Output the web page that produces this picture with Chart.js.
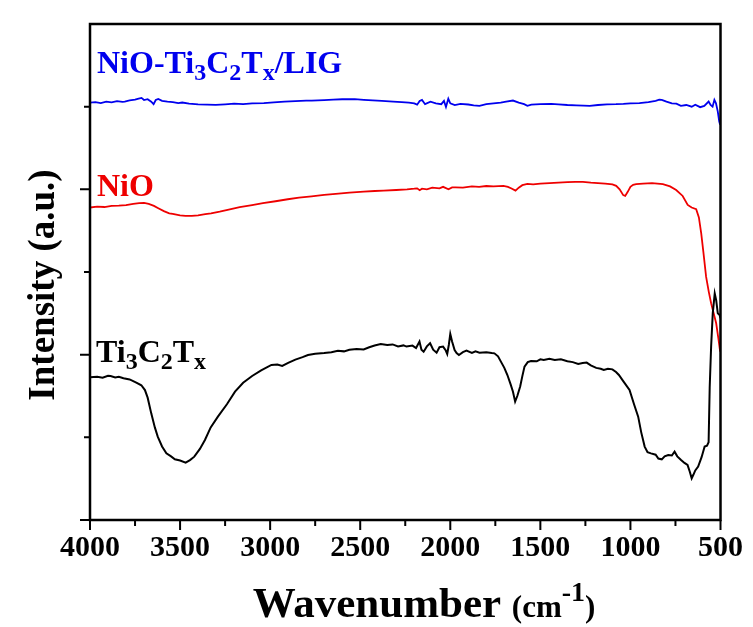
<!DOCTYPE html>
<html>
<head>
<meta charset="utf-8">
<script src="https://cdn.jsdelivr.net/npm/chart.js@4.4.0/dist/chart.umd.min.js"></script>
<style>
body{margin:0;background:#fff;}
#wrap{width:753px;height:627px;}
</style>
</head>
<body>
<div id="wrap"><canvas id="ftir" width="753" height="627"></canvas></div>
<script>
// x ticks (wavenumber, cm-1)
const xTicks = [4000, 3500, 3000, 2500, 2000, 1500, 1000, 500];

// Ti3C2Tx (black)
const wnTi = [4000,3960,3930,3900,3886,3860,3840,3814,3780,3743,3715,3695,3680,3660,3640,3624,3600,3576,3550,3529,3500,3469,3445,3421,3390,3362,3330,3290,3240,3195,3150,3100,3050,2993,2960,2933,2900,2860,2820,2790,2750,2700,2660,2624,2590,2560,2520,2481,2450,2420,2386,2350,2320,2290,2260,2243,2210,2190,2171,2160,2148,2130,2112,2095,2076,2060,2040,2025,2017,2008,2000,1990,1976,1965,1952,1930,1910,1880,1860,1838,1800,1770,1755,1735,1719,1700,1683,1665,1652,1640,1628,1612,1600,1588,1570,1552,1520,1500,1481,1450,1420,1386,1350,1320,1290,1265,1243,1220,1190,1165,1148,1125,1100,1080,1064,1040,1005,980,957,940,921,905,886,860,845,826,810,790,770,755,740,719,700,683,670,660,650,640,624,605,588,575,566,560,552,543,532,524,515,505,500];
const intTi = [0.863,0.866,0.860,0.872,0.871,0.862,0.866,0.857,0.850,0.831,0.815,0.786,0.740,0.645,0.560,0.504,0.445,0.403,0.385,0.367,0.360,0.347,0.362,0.383,0.430,0.484,0.560,0.625,0.700,0.776,0.830,0.871,0.905,0.938,0.940,0.932,0.950,0.970,0.985,0.998,1.005,1.010,1.015,1.024,1.020,1.030,1.034,1.032,1.045,1.055,1.065,1.058,1.062,1.050,1.056,1.049,1.055,1.040,1.079,1.030,1.018,1.050,1.069,1.030,1.012,1.045,1.049,1.025,1.004,1.060,1.125,1.080,1.028,1.010,0.998,1.015,1.024,1.010,1.020,1.012,1.015,1.010,1.008,0.990,0.958,0.920,0.877,0.820,0.776,0.716,0.750,0.807,0.870,0.928,0.955,0.962,0.960,0.972,0.968,0.975,0.968,0.972,0.960,0.955,0.944,0.950,0.952,0.935,0.920,0.915,0.907,0.915,0.911,0.895,0.877,0.840,0.786,0.700,0.625,0.530,0.444,0.410,0.403,0.395,0.372,0.367,0.385,0.393,0.390,0.413,0.385,0.363,0.345,0.333,0.290,0.252,0.275,0.300,0.323,0.380,0.444,0.450,0.470,0.800,1.050,1.250,1.370,1.330,1.250,1.240,1.220];

// NiO (red)
const wnNiO = [4000,3960,3920,3880,3840,3800,3760,3727,3700,3674,3645,3621,3590,3560,3541,3500,3470,3435,3400,3360,3328,3280,3230,3169,3100,3040,2970,2902,2840,2770,2700,2636,2560,2480,2420,2370,2300,2240,2200,2184,2170,2157,2130,2100,2060,2040,2010,1990,1971,1930,1880,1840,1800,1760,1705,1680,1660,1638,1620,1600,1572,1540,1500,1449,1400,1350,1306,1264,1220,1180,1140,1100,1079,1060,1040,1029,1015,1000,985,968,930,880,820,780,746,710,682,660,635,620,607,595,580,565,552,538,524,512,502];
const intNiO = [1.890,1.895,1.893,1.900,1.902,1.905,1.912,1.916,1.918,1.912,1.900,1.886,1.868,1.855,1.851,1.843,1.840,1.839,1.843,1.850,1.855,1.865,1.878,1.892,1.905,1.917,1.928,1.940,1.950,1.958,1.966,1.972,1.980,1.986,1.990,1.992,1.996,2.000,2.004,2.006,1.995,2.004,2.000,2.010,2.006,2.015,2.000,2.012,2.012,2.010,2.018,2.015,2.020,2.018,2.021,2.015,2.005,1.992,2.010,2.025,2.033,2.030,2.035,2.037,2.040,2.043,2.045,2.045,2.040,2.038,2.035,2.030,2.021,2.000,1.965,1.960,1.985,2.015,2.027,2.031,2.035,2.037,2.031,2.018,1.996,1.960,1.906,1.890,1.880,1.830,1.734,1.620,1.472,1.380,1.311,1.250,1.190,1.100,1.018];

// NiO-Ti3C2Tx/LIG (blue)
const wnLIG = [4000,3970,3940,3910,3880,3850,3820,3807,3780,3750,3730,3714,3700,3680,3660,3647,3635,3621,3600,3570,3540,3510,3488,3450,3400,3350,3302,3250,3200,3150,3100,3035,2980,2920,2860,2800,2769,2700,2650,2600,2530,2480,2430,2380,2317,2270,2230,2200,2184,2170,2157,2140,2110,2080,2050,2035,2024,2011,2000,1975,1944,1900,1870,1838,1800,1760,1720,1690,1652,1620,1590,1572,1550,1500,1439,1400,1350,1300,1260,1226,1180,1130,1080,1039,1000,950,900,860,840,826,800,770,745,720,690,660,640,613,590,566,555,544,534,525,515,507,502];
const intLIG = [2.525,2.528,2.522,2.530,2.526,2.533,2.529,2.531,2.538,2.542,2.548,2.553,2.540,2.545,2.530,2.515,2.540,2.547,2.535,2.530,2.528,2.522,2.525,2.518,2.514,2.512,2.511,2.514,2.518,2.515,2.520,2.521,2.526,2.530,2.534,2.537,2.537,2.540,2.543,2.545,2.545,2.541,2.538,2.535,2.531,2.528,2.524,2.520,2.512,2.535,2.541,2.515,2.530,2.520,2.515,2.535,2.498,2.548,2.520,2.510,2.517,2.513,2.508,2.505,2.515,2.520,2.525,2.530,2.537,2.525,2.515,2.505,2.512,2.515,2.517,2.514,2.510,2.508,2.506,2.505,2.510,2.514,2.515,2.517,2.520,2.522,2.528,2.535,2.542,2.541,2.530,2.520,2.518,2.505,2.510,2.500,2.512,2.497,2.505,2.531,2.510,2.500,2.541,2.520,2.470,2.410,2.390];

const serif = "'Liberation Serif', 'Times New Roman', serif";

function pts(xs, ys) {
  return xs.map(function(v, i){ return {x: v, y: ys[i]}; });
}

// draws text with sub/superscripts, parts = [text, size, dy]
function drawRich(ctx, parts, x, y, color) {
  ctx.fillStyle = color;
  ctx.textBaseline = 'alphabetic';
  ctx.textAlign = 'left';
  parts.forEach(function(p){
    ctx.font = 'bold ' + p[1] + 'px ' + serif;
    ctx.fillText(p[0], x, y + p[2]);
    x += ctx.measureText(p[0]).width;
  });
}
function richWidth(ctx, parts) {
  let w = 0;
  parts.forEach(function(p){
    ctx.font = 'bold ' + p[1] + 'px ' + serif;
    w += ctx.measureText(p[0]).width;
  });
  return w;
}

const frame = {
  id: 'frame',
  afterDraw(chart) {
    const ctx = chart.ctx;
    const a = chart.chartArea;
    const xs = chart.scales.x, ys = chart.scales.y;
    ctx.save();
    ctx.strokeStyle = '#000';
    ctx.lineWidth = 2.5;
    ctx.strokeRect(a.left, a.top, a.right - a.left, a.bottom - a.top);
    ctx.lineWidth = 2;
    ctx.beginPath();
    // x ticks, major 500 minor 250
    for (let v = 500; v <= 4000; v += 250) {
      const px = xs.getPixelForValue(v);
      const len = (v % 500 === 0) ? 10 : 6;
      ctx.moveTo(px, a.bottom);
      ctx.lineTo(px, a.bottom + len);
    }
    // y ticks, major 1 minor 0.5
    for (let v = 0; v <= 2.5; v += 0.5) {
      const py = ys.getPixelForValue(v);
      const len = (v % 1 === 0) ? 10 : 6;
      ctx.moveTo(a.left, py);
      ctx.lineTo(a.left - len, py);
    }
    ctx.stroke();

    // series labels
    drawRich(ctx, [['NiO-Ti',32,0],['3',24,7],['C',32,0],['2',24,7],['T',32,0],['x',24,7],['/LIG',32,0]], 97, 73, '#0000ee');
    drawRich(ctx, [['NiO',32,0]], 97, 196, '#ee0000');
    drawRich(ctx, [['Ti',32,0],['3',24,7],['C',32,0],['2',24,7],['T',32,0],['x',24,7]], 96, 362, '#000');

    // x title
    const xt = [['Wavenumber ',43,0],['(cm',31,0],['-1',28,-16],[')',31,0]];
    const w = richWidth(ctx, xt);
    drawRich(ctx, xt, 424 - w / 2, 617, '#000');

    // y title
    ctx.translate(54, 285);
    ctx.rotate(-Math.PI / 2);
    ctx.font = 'bold 37px ' + serif;
    ctx.textAlign = 'center';
    ctx.textBaseline = 'alphabetic';
    ctx.fillText('Intensity (a.u.)', 0, 0);
    ctx.restore();
  }
};

new Chart(document.getElementById('ftir'), {
  type: 'line',
  data: {
    datasets: [
      {label: 'Ti3C2Tx', data: pts(wnTi, intTi), borderColor: '#000', borderWidth: 2},
      {label: 'NiO', data: pts(wnNiO, intNiO), borderColor: '#ee0000', borderWidth: 1.8},
      {label: 'NiO-Ti3C2Tx/LIG', data: pts(wnLIG, intLIG), borderColor: '#0000ee', borderWidth: 1.8}
    ]
  },
  options: {
    responsive: false,
    animation: false,
    layout: {padding: {left: 0, right: 32, top: 24, bottom: 0}},
    elements: {point: {radius: 0}, line: {tension: 0}},
    plugins: {legend: {display: false}, tooltip: {enabled: false}},
    scales: {
      x: {
        type: 'linear',
        reverse: true,
        min: 500,
        max: 4000,
        afterBuildTicks: function(s){ s.ticks = xTicks.map(function(v){ return {value: v}; }); },
        afterFit: function(s){ s.height = 107; },
        grid: {display: false, drawTicks: false},
        border: {display: false},
        ticks: {
          autoSkip: false,
          maxRotation: 0,
          padding: 10,
          color: '#000',
          font: {family: serif, size: 30, weight: 'bold'},
          callback: function(v){ return String(v); }
        }
      },
      y: {
        min: 0,
        max: 3,
        afterFit: function(s){ s.width = 90; },
        grid: {display: false, drawTicks: false},
        border: {display: false},
        ticks: {display: false}
      }
    }
  },
  plugins: [frame]
});
</script>
</body>
</html>
